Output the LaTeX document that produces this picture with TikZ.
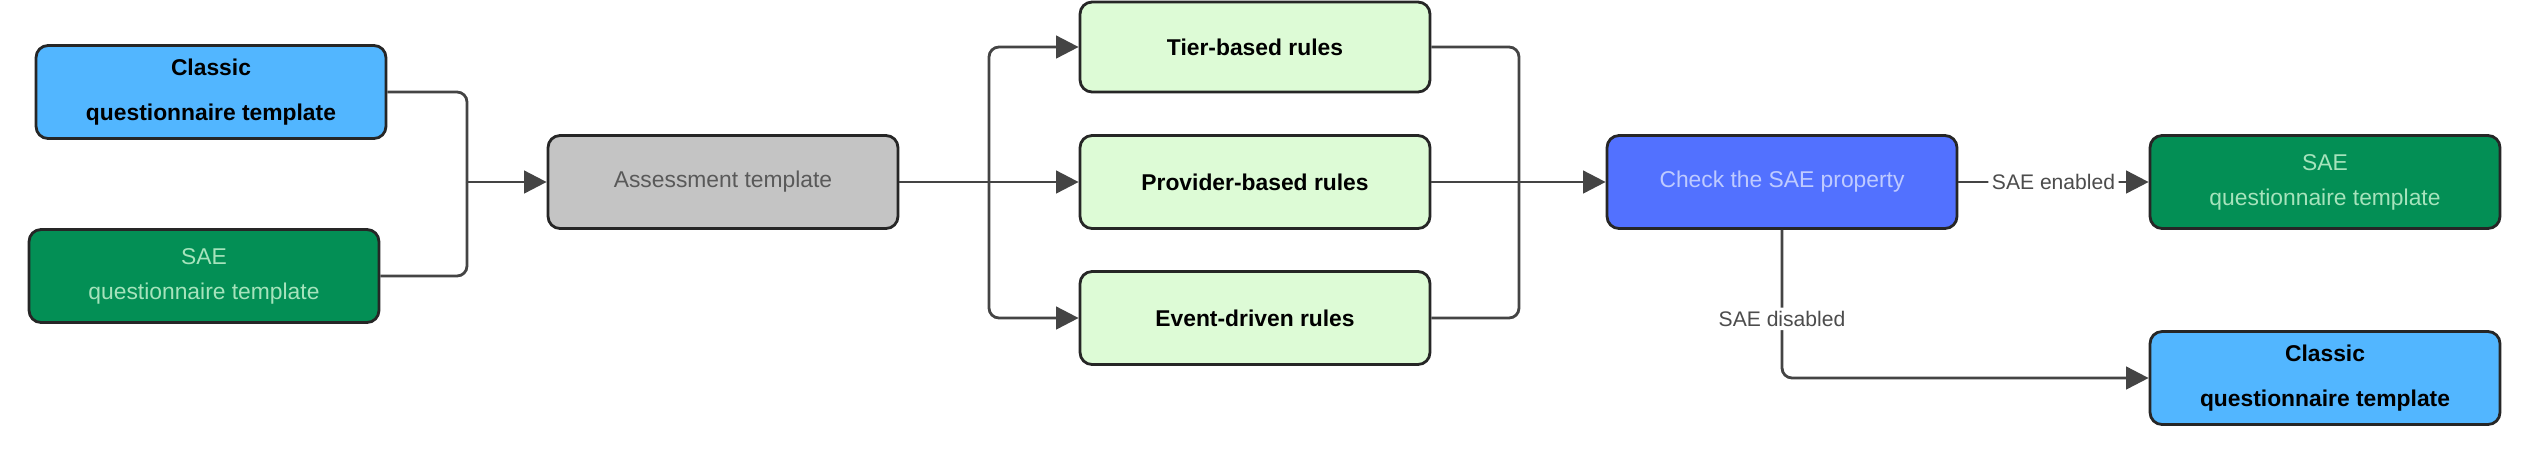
\documentclass[tikz,border=0pt]{standalone}
\usepackage{fontspec}
\setmainfont{Liberation Sans}
\usetikzlibrary{arrows.meta,positioning}
\definecolor{cblue}{HTML}{52B6FF}
\definecolor{cgreen}{HTML}{038F55}
\definecolor{cgtext}{HTML}{A6E3BC}
\definecolor{cgray}{HTML}{C4C4C4}
\definecolor{crule}{HTML}{DDFBD6}
\definecolor{ccheck}{HTML}{5271FF}
\definecolor{cctext}{HTML}{BFCBFF}
\definecolor{cline}{HTML}{444444}
\begin{document}
\begin{tikzpicture}[x=0.02cm,y=-0.02cm,
  box/.style={draw=black!85,line width=1.6pt,rounded corners=0.24cm,minimum width=7cm,minimum height=1.86cm,align=center,inner sep=0pt,font=\fontsize{13}{20}\selectfont},
  classic/.style={box,fill=cblue,font=\fontsize{13}{26}\selectfont\bfseries},
  sae/.style={box,fill=cgreen,text=cgtext},
  rule/.style={box,fill=crule,font=\fontsize{13}{20}\selectfont\bfseries},
  conn/.style={draw=cline,line width=1.6pt,rounded corners=0.2cm},
  arr/.style={conn,-{Triangle[length=0.45cm,width=0.45cm]}},
  lab/.style={fill=white,text=black!70,font=\fontsize{12}{14}\selectfont,inner sep=2pt}]
\useasboundingbox (0,0) rectangle (2542,458);
\node[classic] (c1) at (211,92) {Classic\\questionnaire template};
\node[sae] (s1) at (204,276) {SAE\\questionnaire template};
\node[box,fill=cgray,text=black!65] (a) at (723,182) {Assessment template};
\node[rule,minimum height=1.8cm] (t) at (1255,47) {Tier-based rules};
\node[rule] (p) at (1255,182) {Provider-based rules};
\node[rule] (e) at (1255,318) {Event-driven rules};
\node[box,fill=ccheck,text=cctext] (k) at (1782,182) {Check the SAE property};
\node[sae] (s2) at (2325,182) {SAE\\questionnaire template};
\node[classic] (c2) at (2325,378) {Classic\\questionnaire template};
\coordinate (j1) at (467,182);
\coordinate (j2) at (989,182);
\coordinate (j3) at (1519,182);
\draw[conn] (c1.east) -| (j1);
\draw[conn] (s1.east) -| (j1);
\draw[arr] (j1) -- (a.west);
\draw[conn] (a.east) -- (j2);
\draw[arr] (j2) |- (t.west);
\draw[arr] (j2) -- (p.west);
\draw[arr] (j2) |- (e.west);
\draw[conn] (t.east) -| (j3);
\draw[conn] (p.east) -- (j3);
\draw[conn] (e.east) -| (j3);
\draw[arr] (j3) -- (k.west);
\draw[arr] (k.east) -- node[lab] {SAE enabled} (s2.west);
\draw[arr] (k.south) |- node[lab,pos=0.3] {SAE disabled} (c2.west);
\end{tikzpicture}
\end{document}
